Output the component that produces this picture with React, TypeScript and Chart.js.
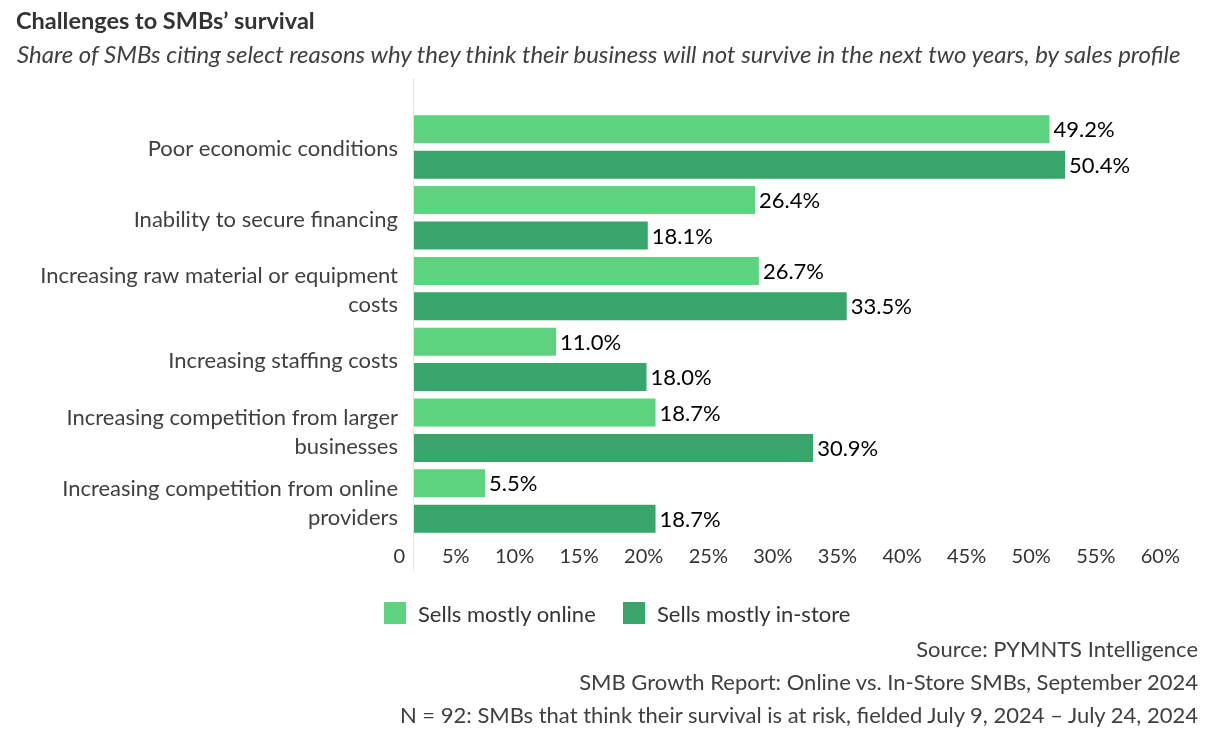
import React, { useEffect, useRef } from "react";
import { Chart, registerables } from "chart.js";

Chart.register(...registerables);

const titleText = "Challenges to SMBs’ survival";
const subtitleText =
  "Share of SMBs citing select reasons why they think their business will not survive in the next two years, by sales profile";

const categories: string[][] = [
  ["Poor economic conditions"],
  ["Inability to secure financing"],
  ["Increasing raw material or equipment", "costs"],
  ["Increasing staffing costs"],
  ["Increasing competition from larger", "businesses"],
  ["Increasing competition from online", "providers"],
];

const seriesNames = ["Sells mostly online", "Sells mostly in-store"];
const onlineValues = [49.2, 26.4, 26.7, 11.0, 18.7, 5.5];
const inStoreValues = [50.4, 18.1, 33.5, 18.0, 30.9, 18.7];
const seriesColors = ["#5ed37f", "#38a66b"];

const xTickValues = [0, 5, 10, 15, 20, 25, 30, 35, 40, 45, 50, 55, 60];
const xTickLabels = ["0", "5%", "10%", "15%", "20%", "25%", "30%", "35%", "40%", "45%", "50%", "55%", "60%"];

const footerLines = [
  "Source: PYMNTS Intelligence",
  "SMB Growth Report: Online vs. In-Store SMBs, September 2024",
  "N = 92: SMBs that think their survival is at risk, fielded July 9, 2024 – July 24, 2024",
];

const FONT = "Lato, 'Noto Sans', sans-serif";

const extrasPlugin = {
  id: "extras",
  beforeDatasetsDraw(chart: any) {
    const ctx = chart.ctx;
    const xs = chart.scales.x;
    const x0 = Math.round(xs.getPixelForValue(0)) - 0.5;
    ctx.save();
    ctx.strokeStyle = "#e6e6e6";
    ctx.lineWidth = 1;
    ctx.beginPath();
    ctx.moveTo(x0, 78);
    ctx.lineTo(x0, 571);
    ctx.stroke();
    ctx.restore();
  },
  afterDraw(chart: any) {
    const ctx = chart.ctx;
    const xs = chart.scales.x;
    ctx.save();
    ctx.font = `20px ${FONT}`;
    ctx.fillStyle = "#333333";
    ctx.textAlign = "right";
    ctx.textBaseline = "middle";
    xTickValues.forEach((v, i) => {
      ctx.fillText(xTickLabels[i], xs.getPixelForValue(v) - 9, 557);
    });
    ctx.font = `22px ${FONT}`;
    ctx.fillStyle = "#000000";
    ctx.textAlign = "left";
    chart.data.datasets.forEach((ds: any, di: number) => {
      const meta = chart.getDatasetMeta(di);
      meta.data.forEach((bar: any, i: number) => {
        const v = ds.data[i] as number;
        ctx.fillText(v.toFixed(1) + "%", bar.x + 4, bar.y + 1);
      });
    });
    ctx.restore();
  },
};

export default function App() {
  const canvasRef = useRef<HTMLCanvasElement | null>(null);

  useEffect(() => {
    const canvas = canvasRef.current;
    if (!canvas) return;
    const chart = new Chart(canvas, {
      type: "bar",
      data: {
        labels: categories,
        datasets: [
          {
            label: seriesNames[0],
            data: onlineValues,
            backgroundColor: seriesColors[0],
            barPercentage: 0.79,
            categoryPercentage: 1.0,
          },
          {
            label: seriesNames[1],
            data: inStoreValues,
            backgroundColor: seriesColors[1],
            barPercentage: 0.79,
            categoryPercentage: 1.0,
          },
        ],
      },
      options: {
        indexAxis: "y",
        responsive: false,
        animation: false,
        devicePixelRatio: 1,
        layout: { padding: { left: 0, right: 28, top: 111.6, bottom: 210.6 } },
        plugins: {
          legend: { display: false },
          tooltip: { enabled: false },
          title: { display: false },
        },
        scales: {
          x: {
            type: "linear",
            min: 0,
            max: 60,
            grid: { display: false },
            border: { display: false },
            ticks: { display: false },
            afterFit(scale: any) {
              scale.height = 0;
            },
          },
          y: {
            type: "category",
            grid: { display: false, drawTicks: false },
            border: { display: false },
            ticks: {
              padding: 16,
              labelOffset: 2,
              color: "#404040",
              font: { family: FONT, size: 22, lineHeight: 1.32 },
            },
            afterFit(scale: any) {
              scale.width = 414;
            },
          },
        },
      },
      plugins: [extrasPlugin],
    });
    return () => chart.destroy();
  }, []);

  const legendX = [384, 623];
  return (
    <div
      style={{
        position: "absolute",
        left: 0,
        top: 0,
        width: 1217,
        height: 747,
        background: "#ffffff",
        fontFamily: FONT,
        overflow: "hidden",
      }}
    >
      <canvas ref={canvasRef} width={1217} height={747} style={{ position: "absolute", left: 0, top: 0 }} />
      <div
        style={{
          position: "absolute",
          left: 16,
          top: 4,
          lineHeight: "32px",
          fontSize: 23.5,
          fontWeight: 700,
          color: "#333333",
          whiteSpace: "nowrap",
        }}
      >
        {titleText}
      </div>
      <div
        style={{
          position: "absolute",
          left: 17,
          top: 39,
          lineHeight: "30px",
          fontSize: 24,
          fontStyle: "italic",
          color: "#404040",
          whiteSpace: "nowrap",
        }}
      >
        {subtitleText}
      </div>
      {seriesNames.map((name, i) => (
        <div key={name}>
          <div
            style={{
              position: "absolute",
              left: legendX[i],
              top: 602,
              width: 22,
              height: 22,
              background: seriesColors[i],
            }}
          />
          <div
            style={{
              position: "absolute",
              left: legendX[i] + 34,
              top: 600,
              lineHeight: "28px",
              fontSize: 22,
              color: "#333333",
              whiteSpace: "nowrap",
            }}
          >
            {name}
          </div>
        </div>
      ))}
      {footerLines.map((line, i) => (
        <div
          key={i}
          style={{
            position: "absolute",
            right: 19,
            top: 635 + i * 33,
            lineHeight: "28px",
            fontSize: 22,
            color: "#404040",
            whiteSpace: "nowrap",
            textAlign: "right",
          }}
        >
          {line}
        </div>
      ))}
    </div>
  );
}
